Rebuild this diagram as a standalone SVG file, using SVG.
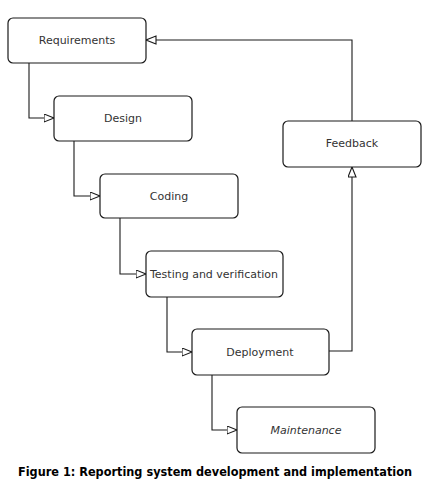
<svg xmlns="http://www.w3.org/2000/svg" width="437" height="488" viewBox="0 0 437 488">
<style>
.box{fill:#fff;stroke:#1a1a1a;stroke-width:1.2}
.lbl{font-family:"DejaVu Sans",Verdana,sans-serif;font-size:11px;fill:#333;text-anchor:middle;dominant-baseline:central}
.conn{fill:none;stroke:#1a1a1a;stroke-width:1.1}
.cap{font-family:"DejaVu Sans",Verdana,sans-serif;font-size:12px;font-weight:bold;fill:#000}
</style>
<defs>
<marker id="tri" markerUnits="userSpaceOnUse" markerWidth="12" markerHeight="10" refX="10.5" refY="4.5" orient="auto">
<path d="M0.5,0.5 L10.5,4.5 L0.5,8.5 Z" fill="#fff" stroke="#1a1a1a" stroke-width="1.1"/>
</marker>
</defs>
<rect width="437" height="488" fill="#fff"/>
<g id="connectors">
<path class="conn" d="M29,63 V118 H54" marker-end="url(#tri)"/>
<path class="conn" d="M74,141 V196 H100" marker-end="url(#tri)"/>
<path class="conn" d="M120,218 V274 H146" marker-end="url(#tri)"/>
<path class="conn" d="M167,297 V352 H192" marker-end="url(#tri)"/>
<path class="conn" d="M212,375 V430 H237" marker-end="url(#tri)"/>
<path class="conn" d="M329,351 H352 V167" marker-end="url(#tri)"/>
<path class="conn" d="M352,121 V40 H146" marker-end="url(#tri)"/>
</g>
<g id="requirements">
<rect class="box" x="8" y="18" width="138" height="45" rx="5"/>
<text class="lbl" x="77" y="40.5">Requirements</text>
</g>
<g id="design">
<rect class="box" x="54" y="96" width="138" height="45" rx="5"/>
<text class="lbl" x="123" y="118.5">Design</text>
</g>
<g id="coding">
<rect class="box" x="100" y="174" width="138" height="44" rx="5"/>
<text class="lbl" x="169" y="196">Coding</text>
</g>
<g id="testing">
<rect class="box" x="146" y="251" width="137" height="46" rx="5"/>
<text class="lbl" x="214" y="274">Testing and verification</text>
</g>
<g id="deployment">
<rect class="box" x="192" y="329" width="137" height="46" rx="5"/>
<text class="lbl" x="260" y="352">Deployment</text>
</g>
<g id="maintenance">
<rect class="box" x="237" y="407" width="138" height="46" rx="5"/>
<text class="lbl" x="306" y="430" font-style="italic">Maintenance</text>
</g>
<g id="feedback">
<rect class="box" x="283" y="121" width="138" height="46" rx="5"/>
<text class="lbl" x="352" y="143">Feedback</text>
</g>
<text class="cap" x="18" y="476" textLength="394" lengthAdjust="spacingAndGlyphs">Figure 1: Reporting system development and implementation</text>
</svg>
